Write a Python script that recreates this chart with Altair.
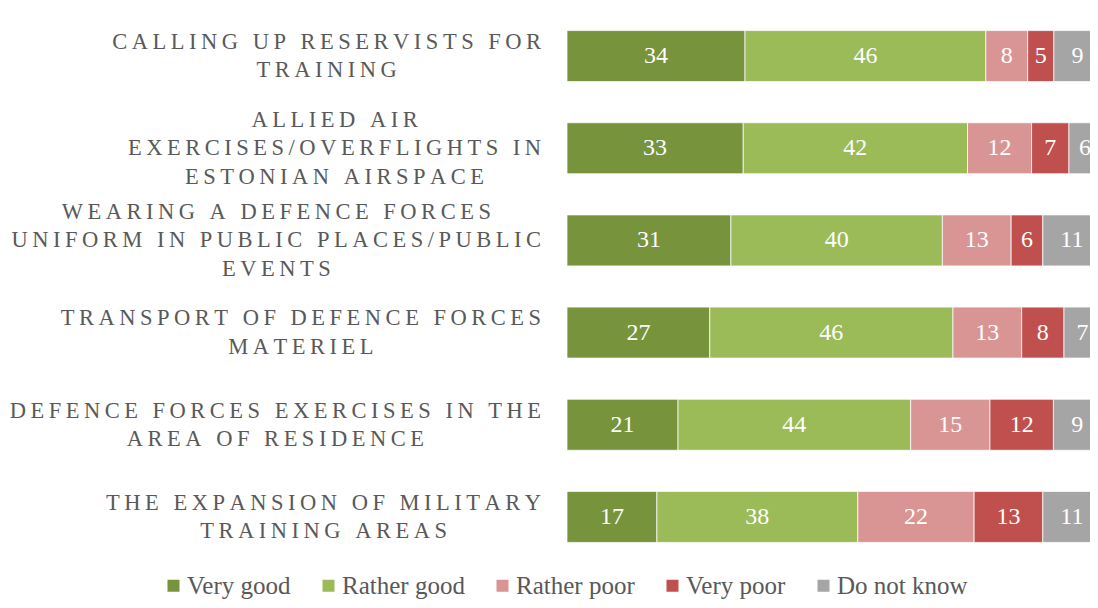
import altair as alt
import pandas as pd

# ---- data ----
label_lines = [
    ["CALLING UP RESERVISTS FOR", "TRAINING"],
    ["ALLIED AIR", "EXERCISES/OVERFLIGHTS IN", "ESTONIAN AIRSPACE"],
    ["WEARING A DEFENCE FORCES", "UNIFORM IN PUBLIC PLACES/PUBLIC", "EVENTS"],
    ["TRANSPORT OF DEFENCE FORCES", "MATERIEL"],
    ["DEFENCE FORCES EXERCISES IN THE", "AREA OF RESIDENCE"],
    ["THE EXPANSION OF MILITARY", "TRAINING AREAS"],
]
responses = ["Very good", "Rather good", "Rather poor", "Very poor", "Do not know"]
very_good = [34, 33, 31, 27, 21, 17]
rather_good = [46, 42, 40, 46, 44, 38]
rather_poor = [8, 12, 13, 13, 15, 22]
very_poor = [5, 7, 6, 8, 12, 13]
dont_know = [9, 6, 11, 7, 9, 11]
colors = ["#77933C", "#9BBB59", "#D99594", "#C0504D", "#A5A5A5"]

series = [very_good, rather_good, rather_poor, very_poor, dont_know]
cats = [" ".join(l) for l in label_lines]

rows = []
for i, c in enumerate(cats):
    for j, r in enumerate(responses):
        rows.append({"cat": c, "resp": r, "value": series[j][i], "order": j})
df = pd.DataFrame(rows)

# ---- label layout (letter-spaced, centred lines, block right-aligned) ----
FS = 22.5
LH = 28.5
THIN = "\u2009"
adv = dict(A=722, B=667, C=667, D=722, E=611, F=556, G=722, H=722, I=333, J=389,
           K=722, L=611, M=889, N=722, O=722, P=556, Q=722, R=667, S=556, T=611,
           U=722, V=722, W=944, X=722, Y=722, Z=611)
adv[" "] = 250
adv["/"] = 278


def line_width(s):
    return sum(adv.get(ch, 600) for ch in s) / 1000 * FS + (len(s) - 1) * 0.2 * FS


lab_rows = []
for c, lines in zip(cats, label_lines):
    w = max(line_width(l) for l in lines)
    disp = "|".join(THIN.join(list(l)) for l in lines)
    lab_rows.append({"cat": c, "disp": disp, "px": -(26 + w / 2), "n": len(lines)})
lab = pd.DataFrame(lab_rows)

serif = "Liberation Serif"
GRID = "#D9D9D9"

yenc = alt.Y("cat:N", sort=cats, scale=alt.Scale(paddingInner=0, paddingOuter=0),
             axis=alt.Axis(grid=True, gridColor=GRID, gridWidth=1, tickBand="extent",
                           labels=False, ticks=False, domain=True, domainColor=GRID,
                           domainWidth=1, title=None))

xscale = alt.Scale(domain=[0, 1], nice=False)

base = alt.Chart(df).transform_stack(
    stack="value", groupby=["cat"], offset="normalize",
    sort=[alt.SortField("order")], as_=["v0", "v1"]
)

bars = base.mark_bar(size=51, stroke="white", strokeWidth=0.75).encode(
    y=yenc,
    x=alt.X("v0:Q", scale=xscale, axis=None),
    x2="v1:Q",
    color=alt.Color("resp:N", sort=responses,
                    scale=alt.Scale(domain=responses, range=colors),
                    legend=alt.Legend(title=None, orient="none", legendX=-406, legendY=563,
                                      direction="horizontal", symbolType="square",
                                      symbolSize=144, symbolStrokeWidth=0,
                                      labelFont=serif, labelFontSize=25,
                                      labelColor="#595959", columnPadding=25,
                                      labelOffset=1, padding=0)),
)

nums = base.transform_calculate(mid="(datum.v0 + datum.v1) / 2").mark_text(
    font=serif, fontSize=24, color="white", baseline="middle", align="center"
).encode(
    y=alt.Y("cat:N", sort=cats, axis=None),
    x=alt.X("mid:Q", scale=xscale, axis=None),
    text="value:Q",
)

label_layers = []
for n in sorted(lab["n"].unique()):
    label_layers.append(
        alt.Chart(lab[lab["n"] == n]).mark_text(
            font=serif, fontSize=FS, color="#595959", align="center", baseline="middle",
            lineBreak="|", lineHeight=LH, dy=-(n - 1) * LH / 2,
        ).encode(
            y=alt.Y("cat:N", sort=cats, axis=None),
            x=alt.X("px:Q", scale=None),
            text="disp:N",
        )
    )

chart = alt.layer(bars, nums, *label_layers).properties(
    width=534, height=553,
    padding={"left": 559, "top": 2, "right": -11, "bottom": 37},
    autosize="none",
).configure_view(stroke=None)

chart.save("out.html", embed_options={"renderer": "svg", "actions": False})
